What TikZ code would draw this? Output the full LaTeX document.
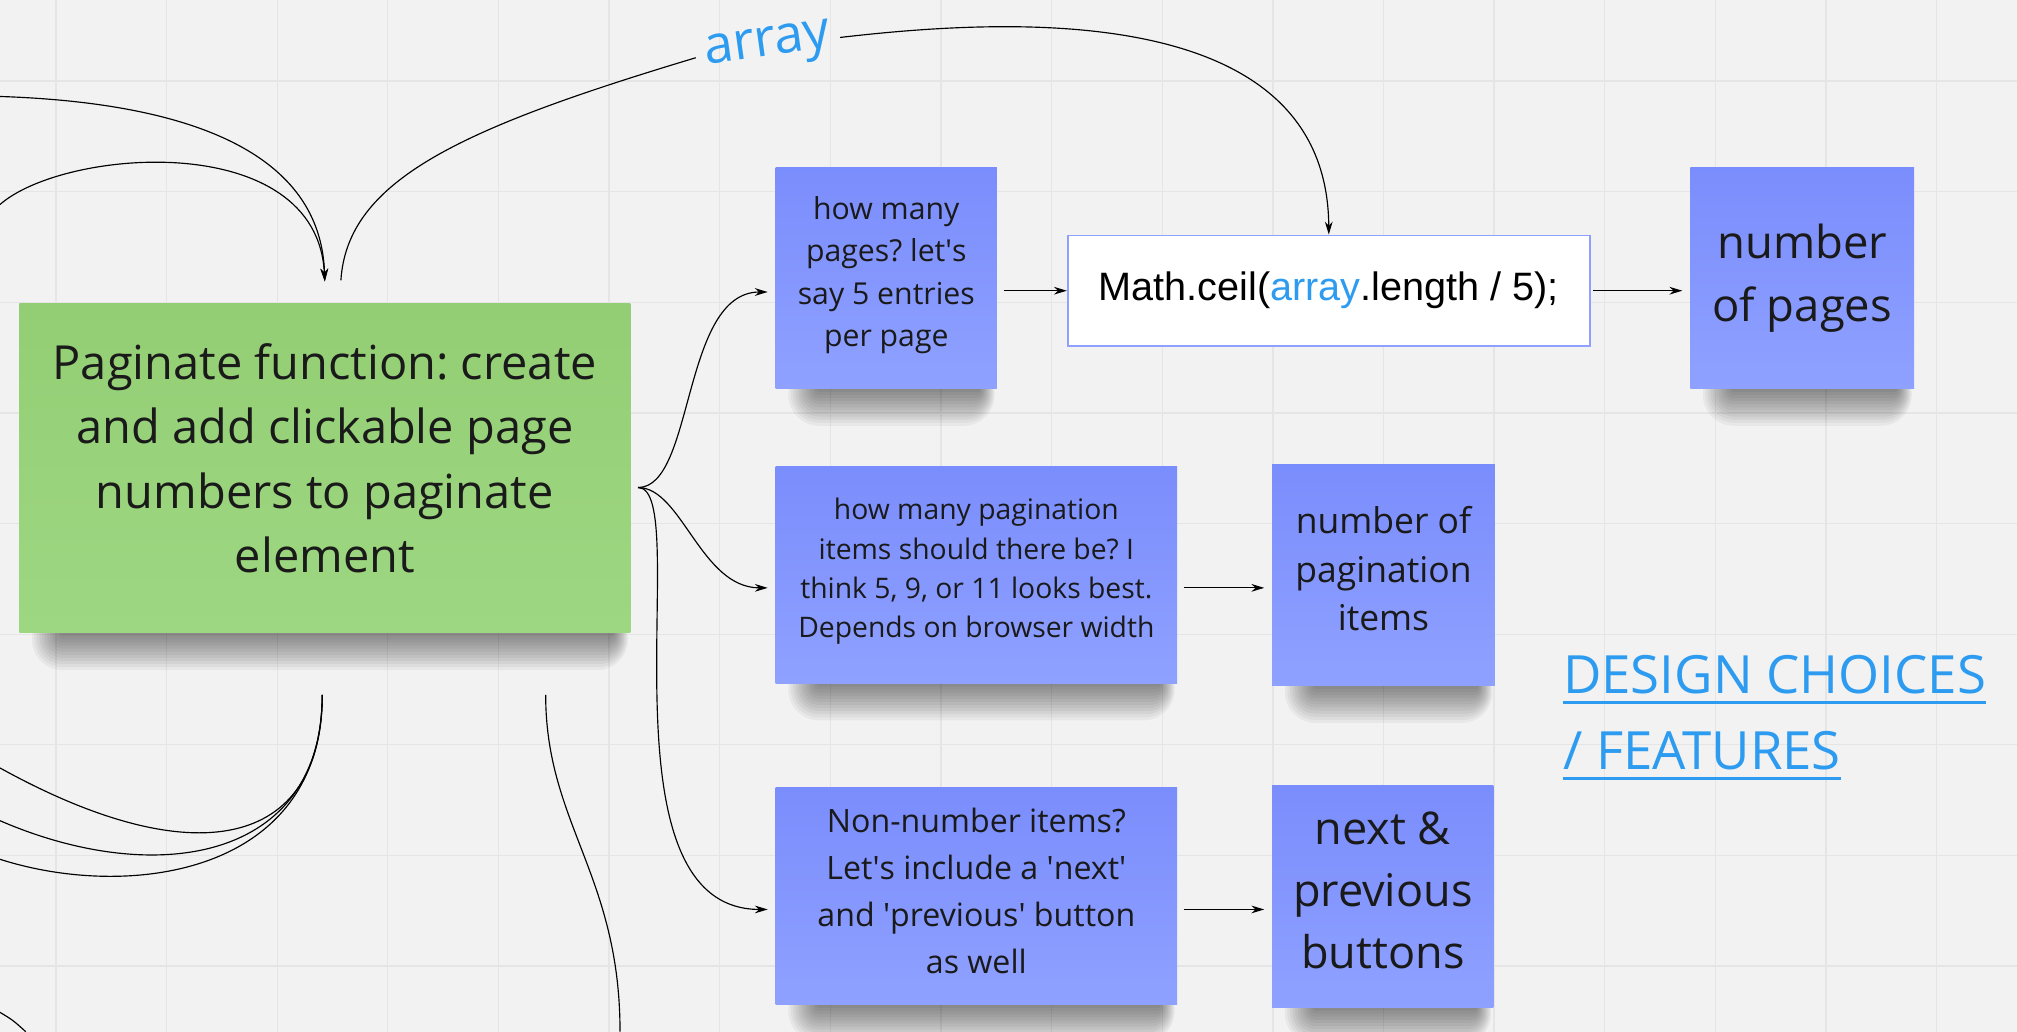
\documentclass[tikz,border=0pt]{standalone}
\usepackage{fontspec}
\setmainfont{Open Sans}
\newfontfamily\codefont{Liberation Sans}
\usetikzlibrary{arrows.meta}
\frenchspacing

\definecolor{board}{HTML}{F2F2F2}
\definecolor{gridcol}{HTML}{E5E5E5}
\definecolor{notetop}{RGB}{122,141,252}
\definecolor{notebot}{RGB}{143,161,255}
\definecolor{greentop}{RGB}{147,206,116}
\definecolor{greenbot}{RGB}{158,215,130}
\definecolor{linkblue}{HTML}{2D9BF0}
\definecolor{inkcol}{HTML}{1A1A1A}
\definecolor{codeborder}{RGB}{143,160,255}

\newcommand{\fs}[2]{\fontsize{#1}{#2}\selectfont}
\newcommand{\apos}{\textquotesingle}

\pgfdeclarelayer{board}
\pgfdeclarelayer{background}
\pgfsetlayers{board,background,main}

\begin{document}
\begin{tikzpicture}[x=1pt, y=-1pt,
  >={Stealth[length=10pt, width=6pt]},
  sticky/.style={rectangle, inner sep=0pt, align=center, text=inkcol,
    top color=notetop, bottom color=notebot},
  bignote/.style={sticky, top color=greentop, bottom color=greenbot},
  shadowlayer/.style={black, opacity=0.045},
  codebox/.style={rectangle, fill=white, draw=codeborder, line width=1.4pt,
    minimum width=406pt, minimum height=86pt},
  heading/.style={anchor=base west, inner sep=0pt, text=linkblue, font=\fs{41}{58}},
  underbar/.style={linkblue, line width=2.4pt},
  wire/.style={line width=0.9pt, draw=black},
  gridline/.style={gridcol, line width=1pt}]

\useasboundingbox (0,0) rectangle (1568,802);
\begin{pgfonlayer}{board}
\fill[board] (0,0) rectangle (1568,802);
\foreach \gx in {43.5,129.5,...,1568} \draw[gridline] (\gx,0) -- (\gx,802);
\foreach \gy in {63,149,...,802} \draw[gridline] (0,\gy) -- (1568,\gy);
\end{pgfonlayer}

% notes
\node[bignote, minimum width=475pt, minimum height=256pt, font=\fs{36.5}{50}, text depth=16pt] (paginate) at (252.5,364) {Paginate function: create\\and add clickable page\\numbers to paginate\\element};
\node[sticky, minimum width=172pt, minimum height=172pt, font=\fs{23.5}{33}, text depth=10pt] (pages) at (689,216) {how many\\pages? let\apos s\\say 5 entries\\per page};
\node[codebox, font=\codefont\fs{30.8}{36}] (ceil) at (1033,226) {Math.ceil(\textcolor{linkblue}{array}.length / 5);};
\node[sticky, minimum width=174pt, minimum height=172pt, font=\fs{35.3}{49}] (numpages) at (1401,216) {number\\of pages};
\node[sticky, minimum width=312pt, minimum height=168pt, font=\fs{22}{30.5}, text depth=11pt] (items) at (759,447) {how many pagination\\items should there be? I\\think 5, 9, or 11 looks best.\\Depends on browser width};
\node[sticky, minimum width=173pt, minimum height=172pt, font=\fs{27.6}{37.5}, text depth=10pt] (numitems) at (1075.5,447) {number of\\pagination\\items};
\node[sticky, minimum width=312pt, minimum height=169pt, font=\fs{25}{36.5}, text depth=8pt] (nonnum) at (759,696.5) {Non-number items?\\Let\apos s include a \apos next\apos\\and \apos previous\apos{} button\\as well};
\node[sticky, minimum width=172pt, minimum height=172pt, font=\fs{35}{48}, text depth=10pt] (buttons) at (1075,697) {next \&\\previous\\buttons};

% soft shadows under the notes
\begin{pgfonlayer}{background}
\foreach \n in {paginate,pages,numpages,items,numitems,nonnum,buttons}
  \foreach \k in {1,...,12}
    \fill[shadowlayer, rounded corners=2*\k pt] ([xshift=34pt-2*\k pt, yshift=20pt]\n.south west) rectangle ([xshift=-14pt+\k pt, yshift=-2.4*\k pt]\n.south east);
\end{pgfonlayer}

% labels
\node[heading] (design) at (1215,539) {DESIGN CHOICES};
\node[heading] (features) at (1215,598) {/ FEATURES};
\draw[underbar] ([yshift=-7pt]design.base west) -- ([yshift=-7pt]design.base east);
\draw[underbar] ([yshift=-7pt]features.base west) -- ([yshift=-7pt]features.base east);
\node[text=linkblue, rotate=8, inner sep=7pt, font=\fs{41}{42}] (array) at (597,37) {array};

% loose ends
\coordinate (split) at (496,379);
\coordinate (arrstart) at (265,218);
\coordinate (inA) at (0,75);
\coordinate (inB) at (0,159);
\coordinate (outA) at (0,597);
\coordinate (outB) at (0,638);
\coordinate (outC) at (0,668);
\coordinate (outD) at (482,802);
\coordinate (cornerA) at (0,787);
\coordinate (cornerB) at (20,802);

% branches
\draw[wire, ->] (split) .. controls +(44,0) and +(-67,0) .. ([xshift=-6pt, yshift=-11pt]pages.west);
\draw[wire, ->] (split) .. controls +(34,0) and +(-52,0) .. ([xshift=-6pt, yshift=-10pt]items.west);
\draw[wire, ->] (split) .. controls +(44,0) and +(-137,0) .. ([xshift=-6pt, yshift=-10.5pt]nonnum.west);
\draw[wire, ->] ([xshift=5pt, yshift=-10pt]pages.east) -- (ceil.west);
\draw[wire, ->] ([xshift=2pt]ceil.east) -- ([xshift=-6pt, yshift=-10pt]numpages.west);
\draw[wire, ->] ([xshift=5pt, yshift=-10pt]items.east) -- ([xshift=-6pt, yshift=-10pt]numitems.west);
\draw[wire, ->] ([xshift=5pt, yshift=-10.5pt]nonnum.east) -- ([xshift=-6pt, yshift=-10pt]buttons.west);

% array arc
\draw[wire] (arrstart) .. controls +(5,-78) and +(-183,55) .. (array.west);
\draw[wire, ->] (array.east) .. controls +(129,-15) and +(-1,-183) .. (ceil.north);

% lines from the left
\draw[wire, ->] (inA) .. controls +(150,5) and +(-3,-99) .. ([yshift=17pt]paginate.north);
\draw[wire, ->] (inB) .. controls +(50,-44) and +(-6,-119) .. ([yshift=17pt]paginate.north);
\draw[wire] ([xshift=-2pt, yshift=-48pt]paginate.south) .. controls +(0,120) and +(150,83) .. (outA);
\draw[wire] ([xshift=-2pt, yshift=-48pt]paginate.south) .. controls +(0,130) and +(120,52) .. (outB);
\draw[wire] ([xshift=-2pt, yshift=-48pt]paginate.south) .. controls +(0,140) and +(100,32) .. (outC);
\draw[wire] ([xshift=-66pt, yshift=-48pt]paginate.south east) .. controls +(0,100) and +(0,-122) .. (outD);
\draw[wire] (cornerA) .. controls +(10,6) .. (cornerB);
\end{tikzpicture}
\end{document}
